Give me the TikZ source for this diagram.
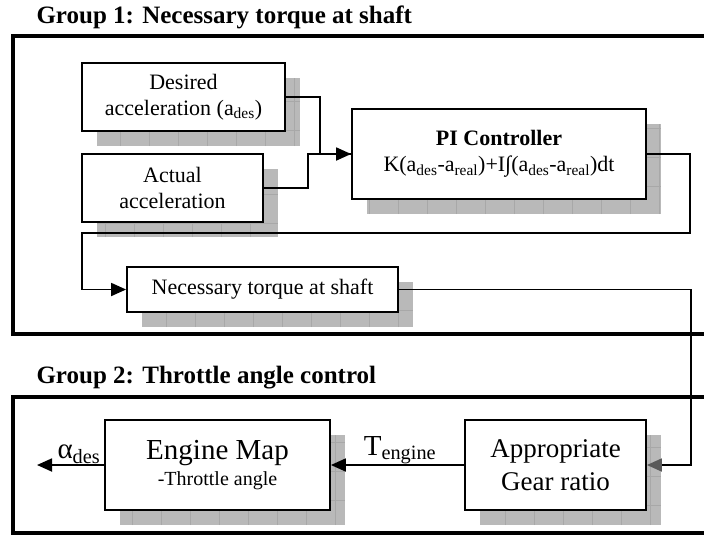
\documentclass[tikz,border=0pt]{standalone}
\usepackage{fontspec}
\setmainfont{Liberation Serif}
\usetikzlibrary{arrows.meta,shadows}

\begin{document}
\begin{tikzpicture}[x=1pt,y=-1pt,
  blk/.style={draw,line width=1.8pt,fill=white,align=center,inner sep=0pt,
    drop shadow={shadow xshift=15pt,shadow yshift=-15pt,fill=gray!55,opacity=1,draw=none,
      path picture={\draw[gray!68,line width=0.6pt,step=29pt] (path picture bounding box.south west) grid (path picture bounding box.north east);}}},
  grp/.style={draw,line width=4.5pt},
  con/.style={line width=1.8pt},
  tip/.style={-{Triangle[length=15pt,width=13pt]}},
  ttl/.style={anchor=base west,font=\fontsize{25}{30}\selectfont\bfseries}]
\clip (0,0) rectangle (704,536);
\node[ttl] (t1) at (33,23) {Group 1: Necessary torque at shaft};
\draw[grp] (13,36) rectangle (724,334);
\node[ttl] (t2) at (33,383) {Group 2: Throttle angle control};
\draw[grp] (13,397) rectangle (724,533);

\node[blk,minimum width=203pt,minimum height=68pt,font=\fontsize{22}{26}\selectfont] (des) at (183.5,97) {Desired\\acceleration (a\textsubscript{des})};
\node[blk,minimum width=181pt,minimum height=68pt,font=\fontsize{22}{26}\selectfont] (act) at (172.5,188) {Actual\\acceleration};
\node[blk,minimum width=294pt,minimum height=90pt,font=\fontsize{22}{26}\selectfont] (pi) at (499,154) {\textbf{PI Controller}\\K(a\textsubscript{des}-a\textsubscript{real})+I∫(a\textsubscript{des}-a\textsubscript{real})dt};
\node[blk,minimum width=271pt,minimum height=45pt,font=\fontsize{22}{26}\selectfont] (nec) at (262.5,289.5) {Necessary torque at shaft};
\node[blk,minimum width=225pt,minimum height=90pt,font=\fontsize{29}{30}\selectfont] (eng) at (217.5,465) {Engine Map\\[-4pt]{\fontsize{20}{22}\selectfont -Throttle angle}};
\node[blk,minimum width=181pt,minimum height=90pt,font=\fontsize{27}{33}\selectfont] (gear) at (555.5,465) {Appropriate\\Gear ratio};

\node[anchor=base,font=\fontsize{29}{30}\selectfont] (teng) at (400,455) {T\textsubscript{engine}};
\node[anchor=base west,font=\fontsize{29}{30}\selectfont] (ades) at (54,458) {α\textsubscript{des}};

\coordinate (r1) at (690,233);
\coordinate (l1) at (82,233);
\coordinate (r2) at (691,465);
\coordinate (out) at (37,465);

\draw[con,tip] (des.east) -- ++(34,0) |- (pi.west);
\draw[con] (act.east) -- ++(44,0) |- (pi.west);
\draw[con,tip] (pi.east) -| (r1) -- (l1) |- (nec.west);
\draw[con,-{Triangle[length=15pt,width=13pt,color=black!65]}] (nec.east) -| (r2) -- (gear.east);
\draw[con,tip] (gear.west) -- (eng.east);
\draw[con,tip] (eng.west) -- (out);
\end{tikzpicture}
\end{document}
